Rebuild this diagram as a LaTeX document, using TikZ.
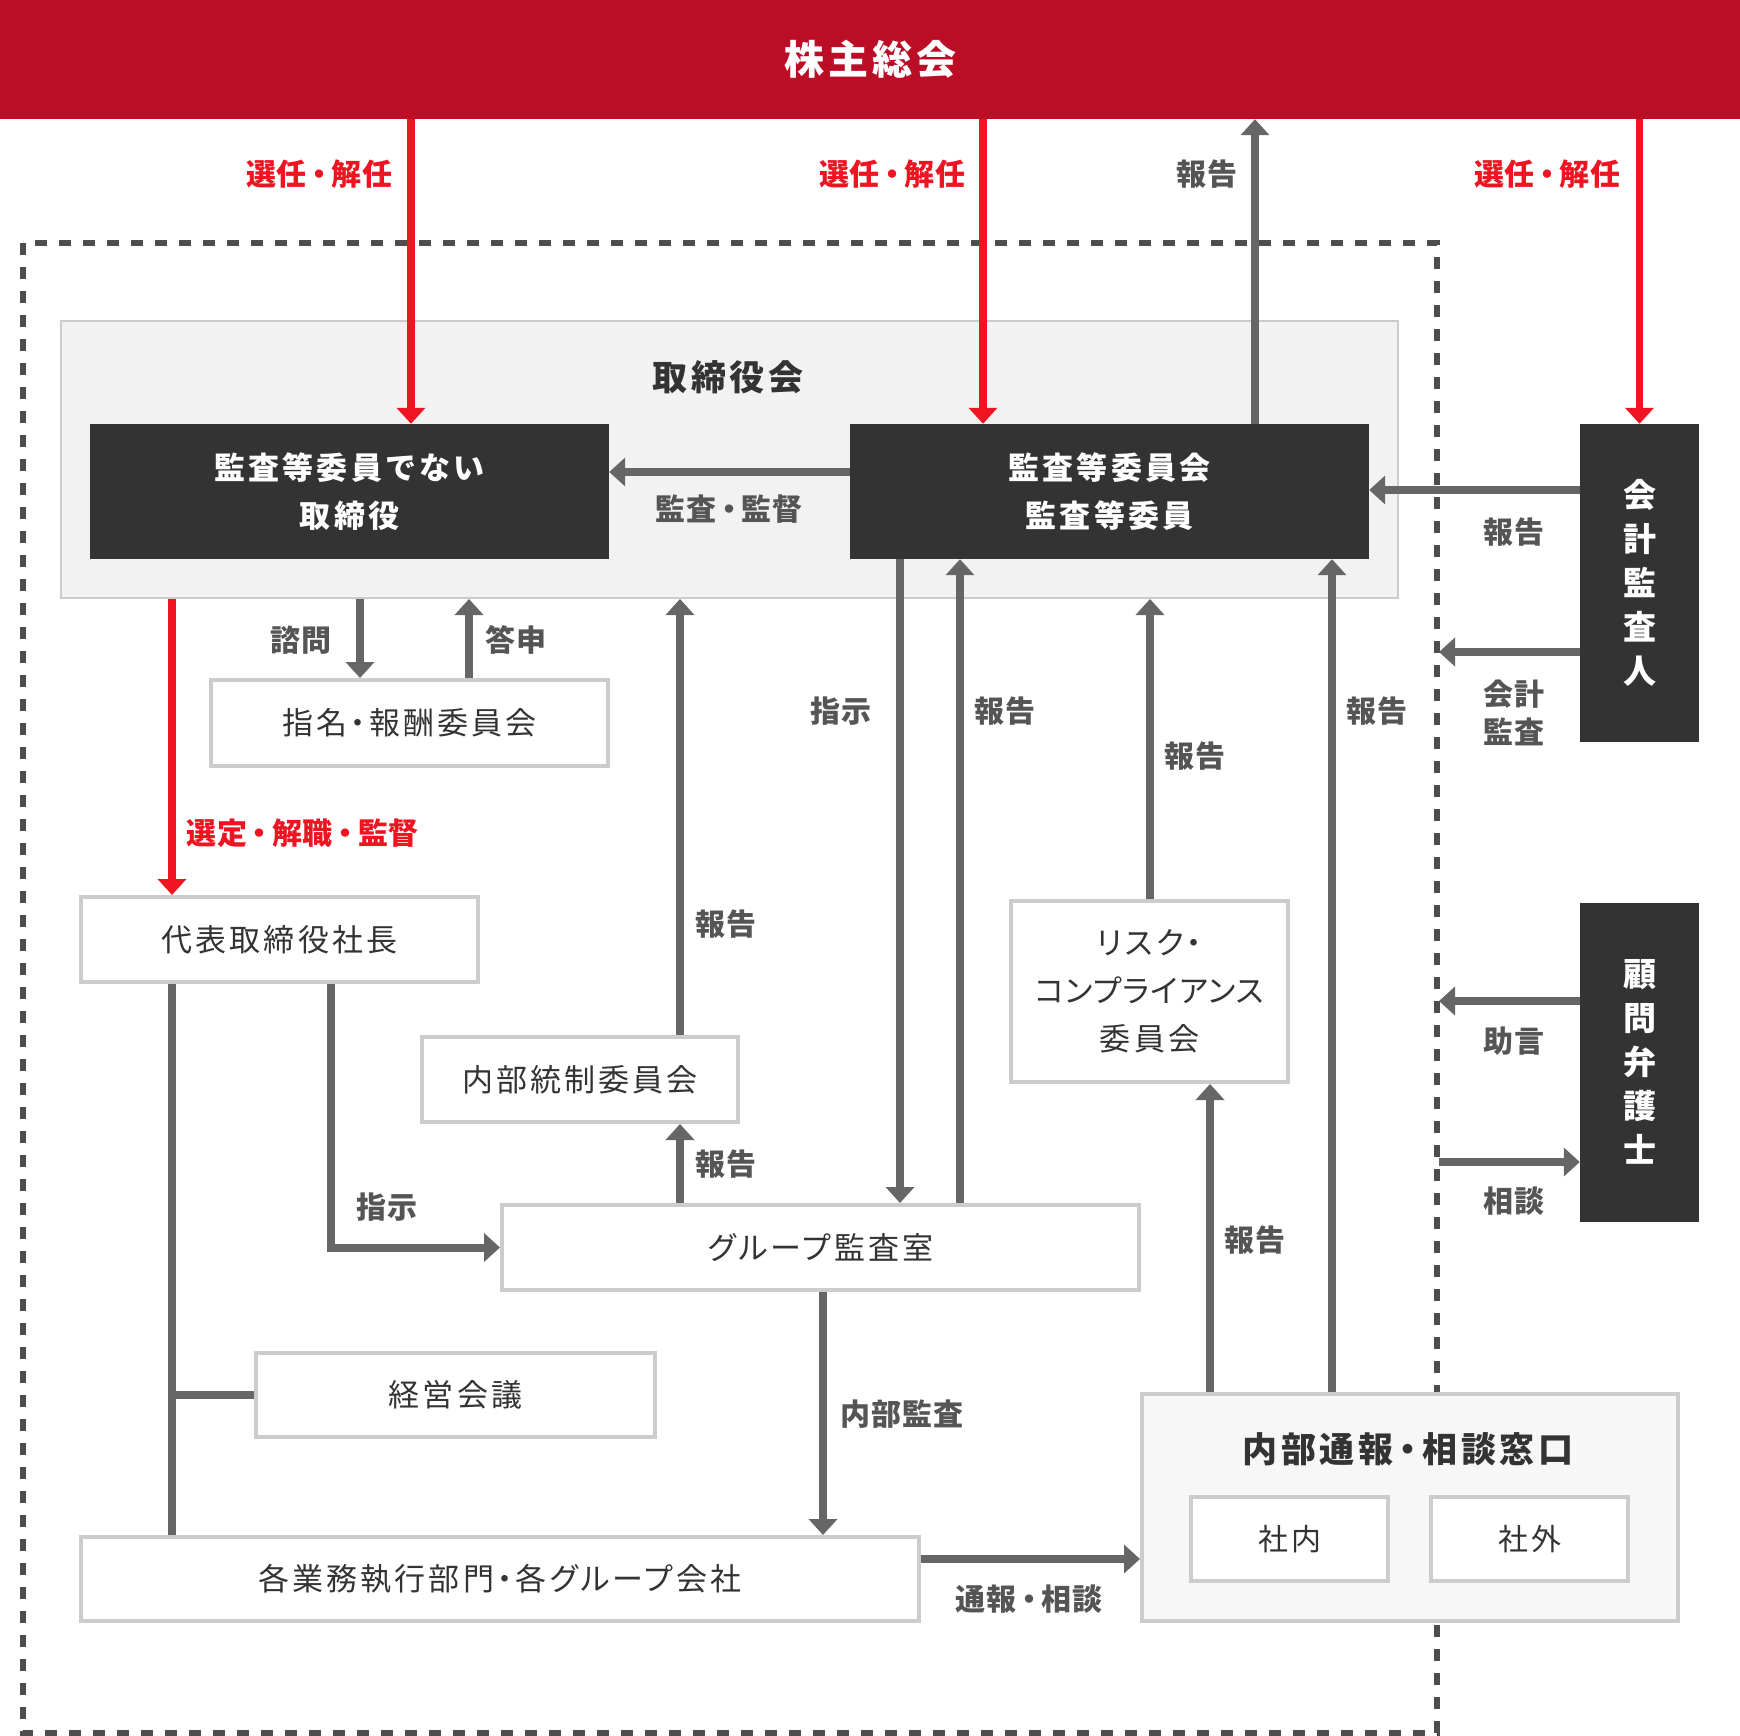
\documentclass[tikz,border=0pt]{standalone}
\usepackage{fontspec}
\usetikzlibrary{arrows.meta}
\newfontfamily\jp[RawFeature=+palt,LetterSpace=10]{Noto Sans CJK JP}
\newfontfamily\jpk[RawFeature=+palt,LetterSpace=4]{Noto Sans CJK JP}
\newfontfamily\jpn[LetterSpace=10]{Noto Sans CJK JP}
\newfontfamily\jpl[RawFeature=+palt,LetterSpace=3]{Noto Sans CJK JP}
\newcommand{\dt}{\kern3pt・\kern3pt}
\newcommand{\ldt}{\kern5pt・\kern5pt}
\newcommand{\tdt}{\kern6pt・\kern6pt}
\definecolor{bannerred}{RGB}{188,13,38}
\definecolor{accred}{RGB}{238,20,34}
\definecolor{arrgray}{RGB}{102,102,102}
\definecolor{darkfill}{RGB}{51,51,51}
\definecolor{bordergray}{RGB}{204,204,204}
\definecolor{boardfill}{RGB}{242,242,242}
\definecolor{winfill}{RGB}{247,247,247}
\definecolor{labelgray}{RGB}{85,85,85}
\definecolor{dashgray}{RGB}{77,77,77}
\definecolor{textdark}{RGB}{51,51,51}
\tikzset{
  wbox/.style={draw=bordergray, line width=4pt, fill=white, text=textdark, inner sep=0pt, align=center, font=\jp\fontsize{31}{48}\selectfont},
  dbox/.style={fill=darkfill, text=white, inner sep=0pt, align=center, font=\jpn\bfseries\fontsize{31}{48}\selectfont},
  vbox/.style={dbox, font=\jpn\bfseries\fontsize{33}{44}\selectfont},
  lbl/.style={text=labelgray, inner sep=0pt, align=center, font=\jpl\bfseries\fontsize{30}{38}\selectfont},
  rlbl/.style={lbl, text=accred},
  garrow/.style={draw=arrgray, line width=7.5pt, -{Triangle[length=16pt,width=28pt]}},
  harrow/.style={garrow, line width=8pt},
  gline/.style={draw=arrgray, line width=7.5pt},
  rarrow/.style={draw=accred, line width=7.5pt, -{Triangle[length=16pt,width=28pt]}},
}
\begin{document}
\begin{tikzpicture}[x=1pt,y=-1pt]
\useasboundingbox (0,0) rectangle (1740,1736);
% guides
\foreach \gx in {411,983,1255,360,469,172,680,331,823,900,960,1150,1210,1332}{\coordinate (g\gx) at (\gx,0);}
\foreach \gy in {472,490,1559}{\coordinate (h\gy) at (0,\gy);}
\coordinate (d1) at (1439,652);
\coordinate (d2) at (1439,1001);
\coordinate (d3) at (1439,1162);

% banner
\node[fill=bannerred, minimum width=1740pt, minimum height=119pt, inner sep=0pt, text=white, font=\jpn\bfseries\fontsize{40}{48}\selectfont] (banner) at (870,59.5) {株主総会};

% dashed frame
\draw[dashgray, line width=6pt, dash pattern=on 12pt off 12pt] (23,243) rectangle (1437,1733);

% board
\node[draw=bordergray, line width=2pt, fill=boardfill, minimum width=1337pt, minimum height=277pt, inner sep=0pt] (board) at (729.5,459.5) {};
\node[lbl, text=textdark, font=\jpn\bfseries\fontsize{35}{40}\selectfont] (boardt) at (728,377) {取締役会};

\node[dbox, minimum width=519pt, minimum height=135pt] (nd) at (349.5,491.5) {監査等委員でない\\取締役};
\node[dbox, minimum width=519pt, minimum height=135pt] (ac) at (1109.5,491.5) {監査等委員会\\監査等委員};
\node[vbox, minimum width=119pt, minimum height=318pt] (ka) at (1639.5,583) {会\\計\\監\\査\\人};
\node[vbox, minimum width=119pt, minimum height=319pt] (ko) at (1639.5,1062) {顧\\問\\弁\\護\\士};

\node[wbox, minimum width=397pt, minimum height=86pt] (nr) at (409.5,723) {指名\dt 報酬委員会};
\node[wbox, minimum width=397pt, minimum height=85pt] (pr) at (279.5,939.5) {代表取締役社長};
\node[wbox, minimum width=316pt, minimum height=85pt] (ic) at (580,1079.5) {内部統制委員会};
\node[wbox, minimum width=637pt, minimum height=85pt] (ga) at (820.5,1247.5) {グループ監査室};
\node[wbox, minimum width=399pt, minimum height=84pt] (mm) at (455.5,1395) {経営会議};
\node[wbox, minimum width=838pt, minimum height=84pt] (dv) at (500,1579) {各業務執行部門\dt 各グループ会社};
\node[wbox, minimum width=277pt, minimum height=181pt] (rc) at (1149.5,991.5) {リスク・\\{\jpk コンプライアンス}\\委員会};

\node[draw=bordergray, line width=4pt, fill=winfill, minimum width=536pt, minimum height=227pt, inner sep=0pt] (wb) at (1410,1507.5) {};
\node[lbl, text=textdark, font=\jp\bfseries\fontsize{35}{40}\selectfont] (wbt) at (1408,1449) {内部通報\tdt 相談窓口};
\node[wbox, font=\jp\fontsize{30}{40}\selectfont, minimum width=197pt, minimum height=84pt] (si) at (1289.5,1539) {社内};
\node[wbox, font=\jp\fontsize{30}{40}\selectfont, minimum width=197pt, minimum height=84pt] (so) at (1529.5,1539) {社外};

% top arrows
\draw[rarrow] (banner.south -| g411) -- (nd.north -| g411);
\draw[rarrow] (banner.south -| g983) -- (ac.north -| g983);
\draw[rarrow] (banner.south -| ka.north) -- (ka.north);
\draw[garrow] (ac.north -| g1255) -- (banner.south -| g1255);
\node[rlbl, anchor=east] (l1) at (393,174) {選任\ldt 解任};
\node[rlbl, anchor=east] (l2) at (966,174) {選任\ldt 解任};
\node[lbl, anchor=east] (l3) at (1238,174) {報告};
\node[rlbl, anchor=east] (l4) at (1621,174) {選任\ldt 解任};

% board arrows
\draw[harrow] (ac.west |- h472) -- (nd.east |- h472);
\node[lbl] (l5) at (729,509) {監査\ldt 監督};
\draw[harrow] (ka.west |- h490) -- (ac.east |- h490);
\node[lbl] (l6) at (1514,532) {報告};
\draw[harrow] (ka.west |- d1) -- (d1);
\node[lbl] (l7) at (1514,713) {会計\\監査};
\draw[harrow] (ko.west |- d2) -- (d2);
\node[lbl] (l8) at (1514,1041) {助言};
\draw[harrow] (d3) -- (ko.west |- d3);
\node[lbl] (l9) at (1514,1201) {相談};

% nomination
\draw[garrow] (board.south -| g360) -- (nr.north -| g360);
\draw[garrow] (nr.north -| g469) -- (board.south -| g469);
\node[lbl] (l10) at (301,640) {諮問};
\node[lbl] (l11) at (516,640) {答申};

% president
\draw[rarrow] (board.south -| g172) -- (pr.north -| g172);
\node[rlbl, anchor=west] (l12) at (186,833) {選定\ldt 解職\ldt 監督};
\draw[gline] (pr.south -| g172) -- (dv.north -| g172);
\draw[gline, line width=8pt] (g172 |- mm.west) -- (mm.west);
\draw[harrow] (pr.south -| g331) -- (g331 |- ga.west) -- (ga.west);
\node[lbl] (l13) at (387,1207) {指示};

% internal control
\draw[garrow] (ic.north -| g680) -- (board.south -| g680);
\node[lbl] (l14) at (726,924) {報告};
\draw[garrow] (ga.north -| g680) -- (ic.south -| g680);
\node[lbl] (l15) at (726,1164) {報告};

% audit committee links
\draw[garrow] (ac.south -| g900) -- (ga.north -| g900);
\node[lbl] (l16) at (841,711) {指示};
\draw[garrow] (ga.north -| g960) -- (ac.south -| g960);
\node[lbl] (l17) at (1005,711) {報告};
\draw[garrow] (rc.north -| g1150) -- (board.south -| g1150);
\node[lbl] (l18) at (1195,756) {報告};
\draw[garrow] (wb.north -| g1210) -- (rc.south -| g1210);
\node[lbl] (l19) at (1255,1240) {報告};
\draw[garrow] (wb.north -| g1332) -- (ac.south -| g1332);
\node[lbl] (l20) at (1377,711) {報告};

% bottom
\draw[garrow] (ga.south -| g823) -- (dv.north -| g823);
\node[lbl] (l21) at (902,1414) {内部監査};
\draw[harrow] (dv.east |- h1559) -- (wb.west |- h1559);
\node[lbl] (l22) at (1029,1599) {通報\ldt 相談};
\end{tikzpicture}
\end{document}
